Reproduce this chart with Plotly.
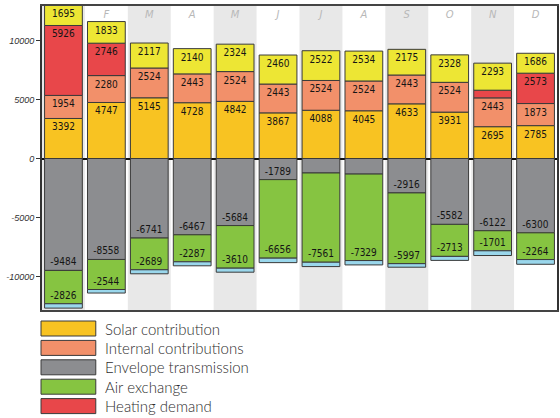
import plotly.graph_objects as go

# Monthly energy balance (kWh)
months = ["J", "F", "M", "A", "M", "J", "J", "A", "S", "O", "N", "D"]

solar = [3392, 4747, 5145, 4728, 4842, 3867, 4088, 4045, 4633, 3931, 2695, 2785]
internal = [1954, 2280, 2524, 2443, 2524, 2443, 2524, 2524, 2443, 2524, 2443, 1873]
heating = [5926, 2746, None, None, None, None, None, None, None, None, 650, 2573]
other_gains = [1695, 1833, 2117, 2140, 2324, 2460, 2522, 2534, 2175, 2328, 2293, 1686]

envelope = [-9484, -8558, -6741, -6467, -5684, -1789, -1228, -1319, -2916, -5582, -6122, -6300]
air_exchange = [-2826, -2544, -2689, -2287, -3610, -6656, -7561, -7329, -5997, -2713, -1701, -2264]
other_losses = [-370, -300, -340, -340, -340, -380, -370, -370, -300, -340, -400, -400]

y_ticks = [10000, 5000, 0, -5000, -10000]
y_tick_text = ["10000", "5000", "0", "-5000", "-10000"]

legend_items = [
    ("Solar contribution", "#F8C322"),
    ("Internal contributions", "#F2906A"),
    ("Envelope transmission", "#8C8D90"),
    ("Air exchange", "#86C441"),
    ("Heating demand", "#E8474A"),
]

W, H = 560, 418
ML, MR, MT, MB = 42, 1, 6, 108
PW, PH = W - ML - MR, H - MT - MB

x = list(range(len(months)))
outline = dict(color="#3a3a3a", width=1)
label_font = dict(family="Liberation Sans Narrow, DejaVu Sans Condensed, Arial Narrow, sans-serif",
                  size=10, color="#151515")


def labels(values):
    return ["" if v is None else str(v) for v in values]


def bar(values, color, show_text=True):
    return go.Bar(
        x=x, y=values, marker=dict(color=color, line=outline),
        text=labels(values) if show_text else None,
        textposition="inside", insidetextanchor="end", textangle=0,
        insidetextfont=label_font, hoverinfo="skip", showlegend=False,
    )


fig = go.Figure()
fig.add_trace(bar(solar, "#F8C322"))
fig.add_trace(bar(internal, "#F2906A"))
fig.add_trace(bar(heating, "#E8474A"))
fig.add_trace(bar(other_gains, "#EDE634"))
fig.add_trace(bar(envelope, "#8C8D90"))
fig.add_trace(bar(air_exchange, "#86C441"))
fig.add_trace(bar(other_losses, "#9AD7EC", show_text=False))

shapes = []
# alternating month bands
for i in range(0, len(months), 2):
    shapes.append(dict(type="rect", xref="x", yref="paper", x0=i - 0.5, x1=i + 0.5,
                       y0=0, y1=1, fillcolor="#E8E8E8", line=dict(width=0), layer="below"))


def px_to_paper_x(px):
    return (px - ML) / PW


def px_to_paper_y(py):
    return (H - MB - py) / PH


annotations = []
row_center0, row_step, sw_h = 328.5, 19.4, 15
for k, (name, color) in enumerate(legend_items):
    yc = row_center0 + k * row_step
    shapes.append(dict(type="rect", xref="paper", yref="paper",
                       x0=px_to_paper_x(41), x1=px_to_paper_x(96),
                       y0=px_to_paper_y(yc + sw_h / 2), y1=px_to_paper_y(yc - sw_h / 2),
                       fillcolor=color, line=dict(color="#3a3a3a", width=1)))
    annotations.append(dict(xref="paper", yref="paper", x=px_to_paper_x(103),
                            y=px_to_paper_y(yc), xanchor="left", yanchor="middle",
                            text=name, showarrow=False,
                            font=dict(family="Lato, sans-serif", size=15, weight=300,
                                      color="#2e2e2e")))

# the January label is covered by that month's tall bar
month_tick_text = ["" if i == 0 else m for i, m in enumerate(months)]

fig.update_layout(
    width=W, height=H,
    margin=dict(l=ML, r=MR, t=MT, b=MB, pad=0),
    paper_bgcolor="white", plot_bgcolor="white",
    barmode="relative", bargap=0.12,
    uniformtext=dict(minsize=9, mode="hide"),
    shapes=shapes, annotations=annotations,
    xaxis=dict(
        range=[-0.5, len(months) - 0.5], side="top",
        tickvals=x, ticktext=month_tick_text, ticks="",
        ticklabelposition="inside", ticklabelstandoff=4,
        tickfont=dict(family="DejaVu Sans, sans-serif", size=10, color="#b8b8b8", style="italic"),
        showline=True, mirror=True, linecolor="#444", linewidth=1.5,
        showgrid=False, zeroline=False, layer="below traces",
    ),
    yaxis=dict(
        range=[-12839, 12924],
        tickvals=y_ticks, ticktext=y_tick_text,
        ticks="outside", ticklen=4, tickcolor="#333", tickwidth=1,
        tickfont=dict(family="Liberation Sans, Arial, sans-serif", size=9, color="#333", style="italic"),
        showline=True, mirror=True, linecolor="#333", linewidth=2,
        showgrid=False, zeroline=True, zerolinecolor="#111", zerolinewidth=2,
        layer="above traces",
    ),
)

fig.write_html("out.html")
